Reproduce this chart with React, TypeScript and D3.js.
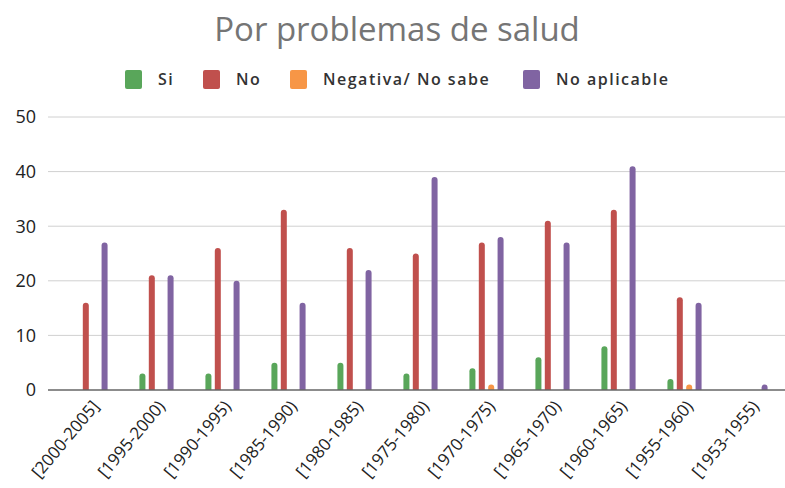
import * as d3 from "d3";
import React, { useEffect, useRef } from "react";

const categories = [
  "[2000-2005]",
  "[1995-2000)",
  "[1990-1995)",
  "[1985-1990)",
  "[1980-1985)",
  "[1975-1980)",
  "[1970-1975)",
  "[1965-1970)",
  "[1960-1965)",
  "[1955-1960)",
  "[1953-1955)",
];
const seriesNames = ["Si", "No", "Negativa/ No sabe", "No aplicable"];
const seriesColors = ["#59a65a", "#c0504d", "#f79646", "#8064a2"];
const si = [0, 3, 3, 5, 5, 3, 4, 6, 8, 2, 0];
const no = [16, 21, 26, 33, 26, 25, 27, 31, 33, 17, 0];
const negativa = [0, 0, 0, 0, 0, 0, 1, 0, 0, 1, 0];
const noAplicable = [27, 21, 20, 16, 22, 39, 28, 27, 41, 16, 1];
const yTicks = [0, 10, 20, 30, 40, 50];

const W = 785;
const H = 488;
const FONT = "'Open Sans', sans-serif";

const App = () => {
  const ref = useRef<SVGSVGElement>(null);

  useEffect(() => {
    const svg = d3.select(ref.current);
    svg.selectAll("*").remove();

    const series = [si, no, negativa, noAplicable];
    const y = d3.scaleLinear().domain([0, 50]).range([390, 117]);
    const x0 = d3
      .scaleBand()
      .domain(categories)
      .range([57.5, 783.5])
      .paddingInner(0.38)
      .paddingOuter(0.19);
    const x1 = d3
      .scaleBand()
      .domain(seriesNames)
      .range([0, x0.bandwidth()])
      .padding(0.36);

    svg
      .append("text")
      .attr("x", 397)
      .attr("y", 41)
      .attr("text-anchor", "middle")
      .style("font-family", FONT)
      .style("font-size", "33px")
      .attr("fill", "#757575")
      .text("Por problemas de salud");

    // legend
    const legendX = [125, 203, 290, 523];
    const leg = svg
      .selectAll("g.leg")
      .data(seriesNames)
      .join("g")
      .attr("class", "leg")
      .attr("transform", (_, i) => `translate(${legendX[i]},70)`);
    leg
      .append("rect")
      .attr("width", 17)
      .attr("height", 19)
      .attr("rx", 2)
      .attr("fill", (_, i) => seriesColors[i]);
    leg
      .append("text")
      .attr("x", 33)
      .attr("y", 15)
      .style("font-family", FONT)
      .style("font-size", "16px")
      .style("font-weight", 600)
      .style("letter-spacing", "1.5px")
      .attr("fill", "#333")
      .text((d) => d);

    // grid
    svg
      .selectAll("line.grid")
      .data(yTicks.slice(1))
      .join("line")
      .attr("class", "grid")
      .attr("x1", 48)
      .attr("x2", W)
      .attr("y1", (d) => y(d))
      .attr("y2", (d) => y(d))
      .attr("stroke", "#d0d0d0")
      .attr("stroke-width", 1);

    svg
      .selectAll("text.ytick")
      .data(yTicks)
      .join("text")
      .attr("class", "ytick")
      .attr("x", 36)
      .attr("y", (d) => y(d))
      .attr("dy", "0.35em")
      .attr("text-anchor", "end")
      .style("font-family", FONT)
      .style("font-size", "18px")
      .attr("fill", "#222")
      .text((d) => d);

    // bars with rounded tops
    const barPath = (bx: number, bw: number, v: number) => {
      const top = y(v);
      const base = y(0);
      const r = Math.min(bw / 2, 3, base - top);
      return `M${bx},${base}V${top + r}Q${bx},${top} ${bx + r},${top}H${bx + bw - r}Q${bx + bw},${top} ${bx + bw},${top + r}V${base}Z`;
    };
    const groups = svg
      .selectAll("g.cat")
      .data(categories)
      .join("g")
      .attr("class", "cat")
      .attr("transform", (d) => `translate(${x0(d)},0)`);
    groups
      .selectAll("path")
      .data((_, ci) =>
        series.map((s, k) => ({ key: seriesNames[k], v: s[ci], c: seriesColors[k] }))
      )
      .join("path")
      .attr("d", (d) => (d.v > 0 ? barPath(x1(d.key)!, x1.bandwidth(), d.v) : ""))
      .attr("fill", (d) => d.c);

    svg
      .append("line")
      .attr("x1", 48)
      .attr("x2", W)
      .attr("y1", y(0))
      .attr("y2", y(0))
      .attr("stroke", "#666")
      .attr("stroke-width", 1.5);

    svg
      .selectAll("text.xtick")
      .data(categories)
      .join("text")
      .attr("class", "xtick")
      .attr(
        "transform",
        (d) => `translate(${x0(d)! + x0.bandwidth() / 2 + 5},403) rotate(-50)`
      )
      .attr("text-anchor", "end")
      .attr("dy", "0.35em")
      .style("font-family", FONT)
      .style("font-size", "17px")
      .attr("fill", "#222")
      .text((d) => d);
  }, []);

  return (
    <svg
      ref={ref}
      width={W}
      height={H}
      style={{ position: "absolute", left: 0, top: 0, background: "#fff" }}
    />
  );
};

export default App;
